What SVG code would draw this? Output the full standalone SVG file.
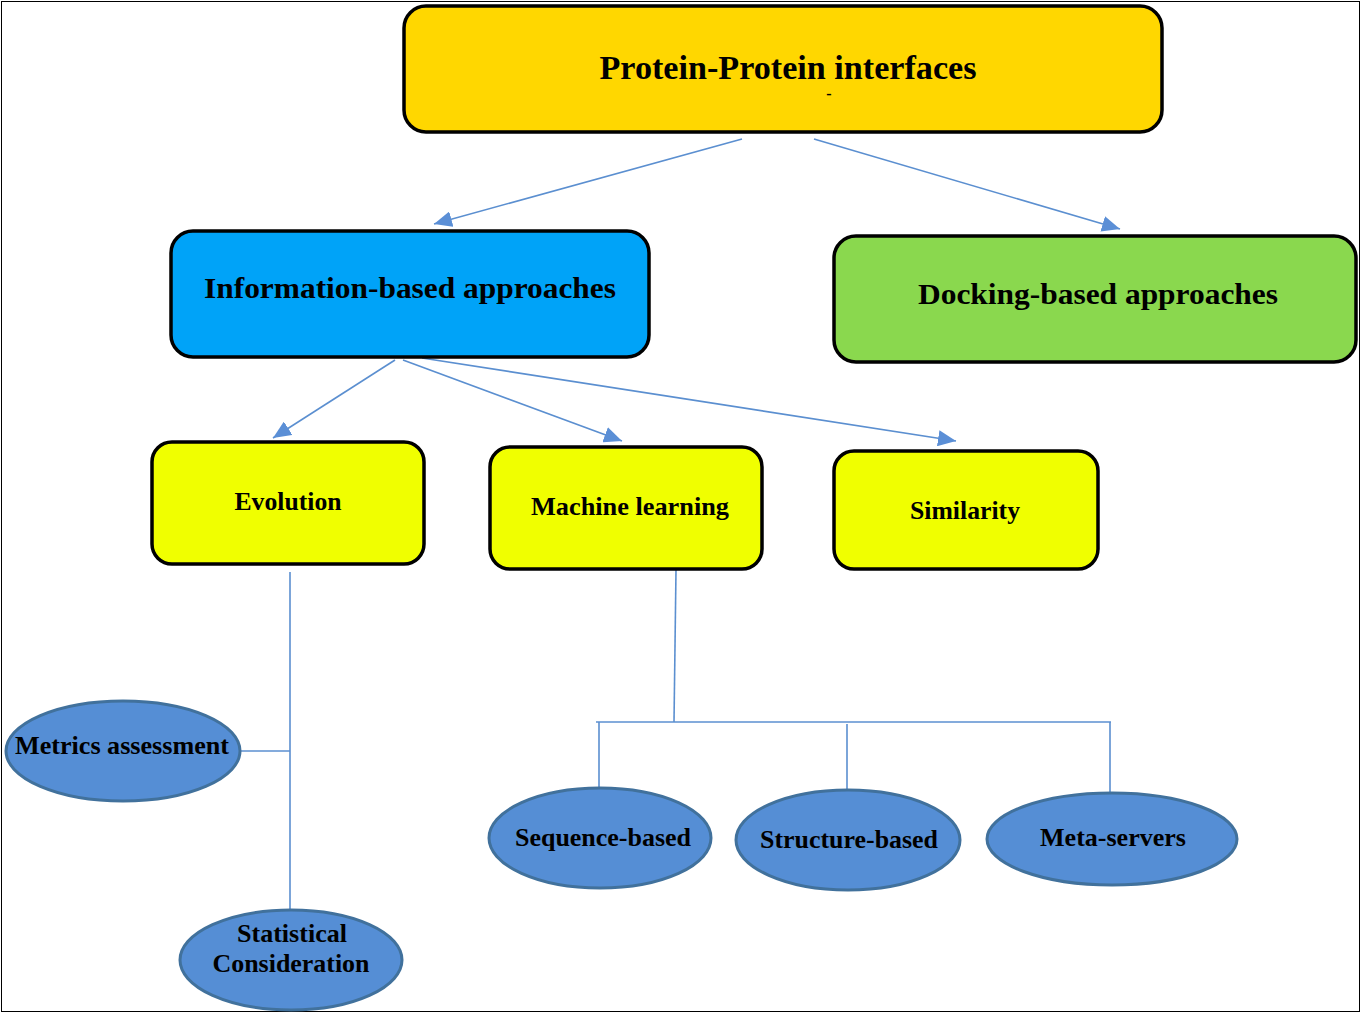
<svg xmlns="http://www.w3.org/2000/svg" width="1362" height="1015" viewBox="0 0 1362 1015">
<defs>
<marker id="arr" markerUnits="userSpaceOnUse" markerWidth="20" markerHeight="16" refX="18" refY="8" orient="auto">
<path d="M0,0 L18,8 L0,16 Z" fill="#5B8FD6"/>
</marker>
<style>
.box{stroke:#000;stroke-width:3.5}
.ell{fill:#558ED5;stroke:#41719C;stroke-width:3}
.t{font-family:"Liberation Serif","Times New Roman",serif;font-weight:bold;fill:#000;text-anchor:middle}
.con{stroke:#5B8FD0;stroke-width:1.6;fill:none}
</style>
</defs>
<rect x="1.5" y="1.5" width="1358" height="1010" fill="#fff" stroke="#000" stroke-width="1"/>
<g id="connectors">
<line class="con" x1="742" y1="139" x2="434" y2="224" marker-end="url(#arr)"/>
<line class="con" x1="814" y1="139" x2="1120" y2="229" marker-end="url(#arr)"/>
<line class="con" x1="395" y1="360" x2="273" y2="438" marker-end="url(#arr)"/>
<line class="con" x1="403" y1="360" x2="622" y2="441" marker-end="url(#arr)"/>
<line class="con" x1="422" y1="358" x2="956" y2="441" marker-end="url(#arr)"/>
<line class="con" x1="290" y1="572" x2="290" y2="910"/>
<line class="con" x1="240" y1="751" x2="290" y2="751"/>
<line class="con" x1="676" y1="570" x2="674" y2="722"/>
<line class="con" x1="596" y1="722" x2="1111" y2="722"/>
<line class="con" x1="599" y1="722" x2="599" y2="788"/>
<line class="con" x1="847" y1="724" x2="847" y2="790"/>
<line class="con" x1="1110" y1="722" x2="1110" y2="793"/>
</g>
<g id="ppi">
<rect class="box" x="404" y="6" width="758" height="126" rx="22" fill="#FFD700"/>
<text class="t" x="788" y="79" font-size="34" textLength="377" lengthAdjust="spacingAndGlyphs">Protein-Protein interfaces</text>
<text class="t" x="829" y="99" font-size="16">-</text>
</g>
<g id="info">
<rect class="box" x="171" y="231" width="478" height="126" rx="22" fill="#00A3F8"/>
<text class="t" x="410" y="298" font-size="30" textLength="412" lengthAdjust="spacingAndGlyphs">Information-based approaches</text>
</g>
<g id="docking">
<rect class="box" x="834" y="236" width="522" height="126" rx="22" fill="#8AD84E"/>
<text class="t" x="1098" y="304" font-size="30" textLength="360" lengthAdjust="spacingAndGlyphs">Docking-based approaches</text>
</g>
<g id="evolution">
<rect class="box" x="152" y="442" width="272" height="122" rx="20" fill="#F0FF00"/>
<text class="t" x="288" y="510" font-size="26" textLength="107" lengthAdjust="spacingAndGlyphs">Evolution</text>
</g>
<g id="ml">
<rect class="box" x="490" y="447" width="272" height="122" rx="20" fill="#F0FF00"/>
<text class="t" x="630" y="515" font-size="26" textLength="198" lengthAdjust="spacingAndGlyphs">Machine learning</text>
</g>
<g id="similarity">
<rect class="box" x="834" y="451" width="264" height="118" rx="20" fill="#F0FF00"/>
<text class="t" x="965" y="519" font-size="26" textLength="110" lengthAdjust="spacingAndGlyphs">Similarity</text>
</g>
<g id="metrics">
<ellipse class="ell" cx="123" cy="751" rx="117" ry="50"/>
<text class="t" x="122" y="754" font-size="26" textLength="214" lengthAdjust="spacingAndGlyphs">Metrics assessment</text>
</g>
<g id="statistical">
<ellipse class="ell" cx="291" cy="960" rx="111" ry="50"/>
<text class="t" x="292" y="942" font-size="26" textLength="110" lengthAdjust="spacingAndGlyphs">Statistical</text>
<text class="t" x="291" y="972" font-size="26" textLength="157" lengthAdjust="spacingAndGlyphs">Consideration</text>
</g>
<g id="sequence">
<ellipse class="ell" cx="600" cy="838" rx="111" ry="50"/>
<text class="t" x="603" y="846" font-size="26" textLength="176" lengthAdjust="spacingAndGlyphs">Sequence-based</text>
</g>
<g id="structure">
<ellipse class="ell" cx="848" cy="840" rx="112" ry="50"/>
<text class="t" x="849" y="848" font-size="26" textLength="178" lengthAdjust="spacingAndGlyphs">Structure-based</text>
</g>
<g id="meta">
<ellipse class="ell" cx="1112" cy="839" rx="125" ry="46"/>
<text class="t" x="1113" y="846" font-size="26" textLength="146" lengthAdjust="spacingAndGlyphs">Meta-servers</text>
</g>
</svg>
